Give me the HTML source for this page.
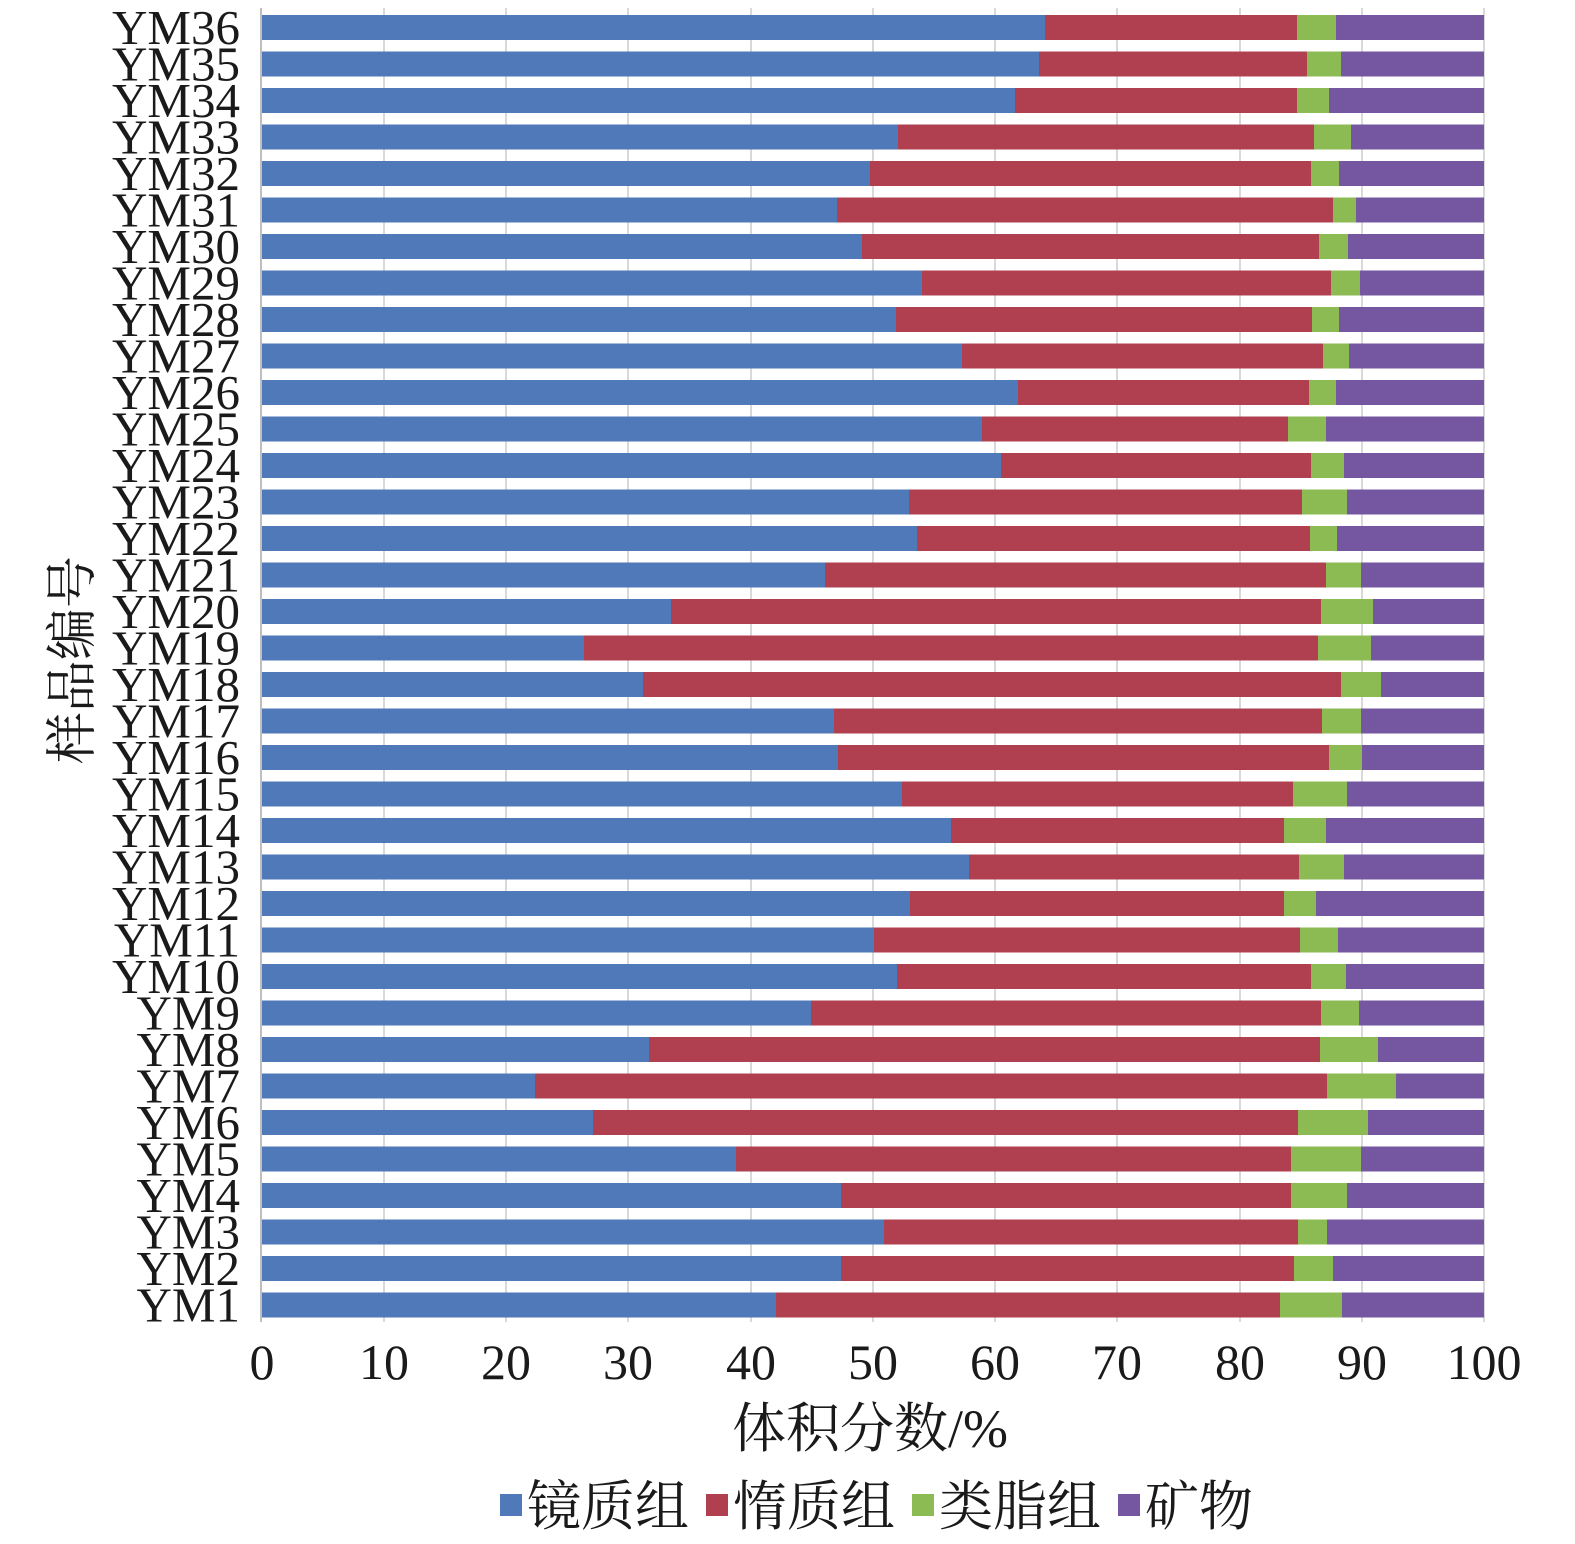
<!DOCTYPE html>
<html><head><meta charset="utf-8"><style>
body{margin:0;background:#fff}
.b{fill:#4f79b8}.r{fill:#b04050}.g{fill:#8dbb53}.p{fill:#7457a0}
text{font-family:"Liberation Serif","Noto Serif CJK SC",serif;fill:#1a1a1a}
.yl{font-size:49px;text-anchor:end}
.xl{font-size:50px;text-anchor:middle}
</style></head><body>
<svg width="1575" height="1539" xmlns="http://www.w3.org/2000/svg">
<g stroke="#d9d9d9" stroke-width="2">
<line x1="384" y1="8" x2="384" y2="1322"/><line x1="506" y1="8" x2="506" y2="1322"/><line x1="628" y1="8" x2="628" y2="1322"/><line x1="751" y1="8" x2="751" y2="1322"/><line x1="873" y1="8" x2="873" y2="1322"/><line x1="995" y1="8" x2="995" y2="1322"/><line x1="1117" y1="8" x2="1117" y2="1322"/><line x1="1240" y1="8" x2="1240" y2="1322"/><line x1="1362" y1="8" x2="1362" y2="1322"/><line x1="1484" y1="8" x2="1484" y2="1322"/>
</g>
<g>
<g transform="translate(0,15)"><rect class="b" x="262" width="783" height="25"/><rect class="r" x="1045" width="252" height="25"/><rect class="g" x="1297" width="39" height="25"/><rect class="p" x="1336" width="148" height="25"/><text class="yl" x="240" y="29">YM36</text></g>
<g transform="translate(0,51.5)"><rect class="b" x="262" width="777" height="25"/><rect class="r" x="1039" width="268" height="25"/><rect class="g" x="1307" width="34" height="25"/><rect class="p" x="1341" width="143" height="25"/><text class="yl" x="240" y="29">YM35</text></g>
<g transform="translate(0,88)"><rect class="b" x="262" width="753" height="25"/><rect class="r" x="1015" width="282" height="25"/><rect class="g" x="1297" width="32" height="25"/><rect class="p" x="1329" width="155" height="25"/><text class="yl" x="240" y="29">YM34</text></g>
<g transform="translate(0,124.5)"><rect class="b" x="262" width="636" height="25"/><rect class="r" x="898" width="416" height="25"/><rect class="g" x="1314" width="37" height="25"/><rect class="p" x="1351" width="133" height="25"/><text class="yl" x="240" y="29">YM33</text></g>
<g transform="translate(0,161)"><rect class="b" x="262" width="608" height="25"/><rect class="r" x="870" width="441" height="25"/><rect class="g" x="1311" width="28" height="25"/><rect class="p" x="1339" width="145" height="25"/><text class="yl" x="240" y="29">YM32</text></g>
<g transform="translate(0,197.5)"><rect class="b" x="262" width="575" height="25"/><rect class="r" x="837" width="496" height="25"/><rect class="g" x="1333" width="23" height="25"/><rect class="p" x="1356" width="128" height="25"/><text class="yl" x="240" y="29">YM31</text></g>
<g transform="translate(0,234)"><rect class="b" x="262" width="600" height="25"/><rect class="r" x="862" width="457" height="25"/><rect class="g" x="1319" width="29" height="25"/><rect class="p" x="1348" width="136" height="25"/><text class="yl" x="240" y="29">YM30</text></g>
<g transform="translate(0,270.5)"><rect class="b" x="262" width="660" height="25"/><rect class="r" x="922" width="409" height="25"/><rect class="g" x="1331" width="29" height="25"/><rect class="p" x="1360" width="124" height="25"/><text class="yl" x="240" y="29">YM29</text></g>
<g transform="translate(0,307)"><rect class="b" x="262" width="634" height="25"/><rect class="r" x="896" width="416" height="25"/><rect class="g" x="1312" width="27" height="25"/><rect class="p" x="1339" width="145" height="25"/><text class="yl" x="240" y="29">YM28</text></g>
<g transform="translate(0,343.5)"><rect class="b" x="262" width="700" height="25"/><rect class="r" x="962" width="361" height="25"/><rect class="g" x="1323" width="26" height="25"/><rect class="p" x="1349" width="135" height="25"/><text class="yl" x="240" y="29">YM27</text></g>
<g transform="translate(0,380)"><rect class="b" x="262" width="756" height="25"/><rect class="r" x="1018" width="291" height="25"/><rect class="g" x="1309" width="27" height="25"/><rect class="p" x="1336" width="148" height="25"/><text class="yl" x="240" y="29">YM26</text></g>
<g transform="translate(0,416.5)"><rect class="b" x="262" width="720" height="25"/><rect class="r" x="982" width="306" height="25"/><rect class="g" x="1288" width="38" height="25"/><rect class="p" x="1326" width="158" height="25"/><text class="yl" x="240" y="29">YM25</text></g>
<g transform="translate(0,453)"><rect class="b" x="262" width="739" height="25"/><rect class="r" x="1001" width="310" height="25"/><rect class="g" x="1311" width="33" height="25"/><rect class="p" x="1344" width="140" height="25"/><text class="yl" x="240" y="29">YM24</text></g>
<g transform="translate(0,489.5)"><rect class="b" x="262" width="647" height="25"/><rect class="r" x="909" width="393" height="25"/><rect class="g" x="1302" width="45" height="25"/><rect class="p" x="1347" width="137" height="25"/><text class="yl" x="240" y="29">YM23</text></g>
<g transform="translate(0,526)"><rect class="b" x="262" width="655" height="25"/><rect class="r" x="917" width="393" height="25"/><rect class="g" x="1310" width="27" height="25"/><rect class="p" x="1337" width="147" height="25"/><text class="yl" x="240" y="29">YM22</text></g>
<g transform="translate(0,562.5)"><rect class="b" x="262" width="563" height="25"/><rect class="r" x="825" width="501" height="25"/><rect class="g" x="1326" width="35" height="25"/><rect class="p" x="1361" width="123" height="25"/><text class="yl" x="240" y="29">YM21</text></g>
<g transform="translate(0,599)"><rect class="b" x="262" width="409" height="25"/><rect class="r" x="671" width="650" height="25"/><rect class="g" x="1321" width="52" height="25"/><rect class="p" x="1373" width="111" height="25"/><text class="yl" x="240" y="29">YM20</text></g>
<g transform="translate(0,635.5)"><rect class="b" x="262" width="322" height="25"/><rect class="r" x="584" width="734" height="25"/><rect class="g" x="1318" width="53" height="25"/><rect class="p" x="1371" width="113" height="25"/><text class="yl" x="240" y="29">YM19</text></g>
<g transform="translate(0,672)"><rect class="b" x="262" width="381" height="25"/><rect class="r" x="643" width="698" height="25"/><rect class="g" x="1341" width="40" height="25"/><rect class="p" x="1381" width="103" height="25"/><text class="yl" x="240" y="29">YM18</text></g>
<g transform="translate(0,708.5)"><rect class="b" x="262" width="572" height="25"/><rect class="r" x="834" width="488" height="25"/><rect class="g" x="1322" width="39" height="25"/><rect class="p" x="1361" width="123" height="25"/><text class="yl" x="240" y="29">YM17</text></g>
<g transform="translate(0,745)"><rect class="b" x="262" width="576" height="25"/><rect class="r" x="838" width="491" height="25"/><rect class="g" x="1329" width="33" height="25"/><rect class="p" x="1362" width="122" height="25"/><text class="yl" x="240" y="29">YM16</text></g>
<g transform="translate(0,781.5)"><rect class="b" x="262" width="640" height="25"/><rect class="r" x="902" width="391" height="25"/><rect class="g" x="1293" width="54" height="25"/><rect class="p" x="1347" width="137" height="25"/><text class="yl" x="240" y="29">YM15</text></g>
<g transform="translate(0,818)"><rect class="b" x="262" width="689" height="25"/><rect class="r" x="951" width="333" height="25"/><rect class="g" x="1284" width="42" height="25"/><rect class="p" x="1326" width="158" height="25"/><text class="yl" x="240" y="29">YM14</text></g>
<g transform="translate(0,854.5)"><rect class="b" x="262" width="707" height="25"/><rect class="r" x="969" width="330" height="25"/><rect class="g" x="1299" width="45" height="25"/><rect class="p" x="1344" width="140" height="25"/><text class="yl" x="240" y="29">YM13</text></g>
<g transform="translate(0,891)"><rect class="b" x="262" width="648" height="25"/><rect class="r" x="910" width="374" height="25"/><rect class="g" x="1284" width="32" height="25"/><rect class="p" x="1316" width="168" height="25"/><text class="yl" x="240" y="29">YM12</text></g>
<g transform="translate(0,927.5)"><rect class="b" x="262" width="612" height="25"/><rect class="r" x="874" width="426" height="25"/><rect class="g" x="1300" width="38" height="25"/><rect class="p" x="1338" width="146" height="25"/><text class="yl" x="240" y="29">YM11</text></g>
<g transform="translate(0,964)"><rect class="b" x="262" width="635" height="25"/><rect class="r" x="897" width="414" height="25"/><rect class="g" x="1311" width="35" height="25"/><rect class="p" x="1346" width="138" height="25"/><text class="yl" x="240" y="29">YM10</text></g>
<g transform="translate(0,1000.5)"><rect class="b" x="262" width="549" height="25"/><rect class="r" x="811" width="510" height="25"/><rect class="g" x="1321" width="38" height="25"/><rect class="p" x="1359" width="125" height="25"/><text class="yl" x="240" y="29">YM9</text></g>
<g transform="translate(0,1037)"><rect class="b" x="262" width="387" height="25"/><rect class="r" x="649" width="671" height="25"/><rect class="g" x="1320" width="58" height="25"/><rect class="p" x="1378" width="106" height="25"/><text class="yl" x="240" y="29">YM8</text></g>
<g transform="translate(0,1073.5)"><rect class="b" x="262" width="273" height="25"/><rect class="r" x="535" width="792" height="25"/><rect class="g" x="1327" width="69" height="25"/><rect class="p" x="1396" width="88" height="25"/><text class="yl" x="240" y="29">YM7</text></g>
<g transform="translate(0,1110)"><rect class="b" x="262" width="331" height="25"/><rect class="r" x="593" width="705" height="25"/><rect class="g" x="1298" width="70" height="25"/><rect class="p" x="1368" width="116" height="25"/><text class="yl" x="240" y="29">YM6</text></g>
<g transform="translate(0,1146.5)"><rect class="b" x="262" width="474" height="25"/><rect class="r" x="736" width="555" height="25"/><rect class="g" x="1291" width="70" height="25"/><rect class="p" x="1361" width="123" height="25"/><text class="yl" x="240" y="29">YM5</text></g>
<g transform="translate(0,1183)"><rect class="b" x="262" width="579" height="25"/><rect class="r" x="841" width="450" height="25"/><rect class="g" x="1291" width="56" height="25"/><rect class="p" x="1347" width="137" height="25"/><text class="yl" x="240" y="29">YM4</text></g>
<g transform="translate(0,1219.5)"><rect class="b" x="262" width="622" height="25"/><rect class="r" x="884" width="414" height="25"/><rect class="g" x="1298" width="29" height="25"/><rect class="p" x="1327" width="157" height="25"/><text class="yl" x="240" y="29">YM3</text></g>
<g transform="translate(0,1256)"><rect class="b" x="262" width="579" height="25"/><rect class="r" x="841" width="453" height="25"/><rect class="g" x="1294" width="39" height="25"/><rect class="p" x="1333" width="151" height="25"/><text class="yl" x="240" y="29">YM2</text></g>
<g transform="translate(0,1292.5)"><rect class="b" x="262" width="514" height="25"/><rect class="r" x="776" width="504" height="25"/><rect class="g" x="1280" width="62" height="25"/><rect class="p" x="1342" width="142" height="25"/><text class="yl" x="240" y="29">YM1</text></g>
</g>
<line x1="261" y1="8" x2="261" y2="1322" stroke="#bfbfbf" stroke-width="2"/>
<g>
<text class="xl" x="262" y="1379">0</text><text class="xl" x="384" y="1379">10</text><text class="xl" x="506" y="1379">20</text><text class="xl" x="628" y="1379">30</text><text class="xl" x="751" y="1379">40</text><text class="xl" x="873" y="1379">50</text><text class="xl" x="995" y="1379">60</text><text class="xl" x="1117" y="1379">70</text><text class="xl" x="1240" y="1379">80</text><text class="xl" x="1362" y="1379">90</text><text class="xl" x="1484" y="1379">100</text>
</g>
<text x="870" y="1447" style="font-size:54px;text-anchor:middle">体积分数/%</text>
<text transform="translate(90,660) rotate(-90)" style="font-size:52px;text-anchor:middle">样品编号</text>
<g style="font-size:54px">
<rect class="b" x="500" y="1494" width="22" height="22"/><text x="527" y="1525">镜质组</text>
<rect class="r" x="706" y="1494" width="22" height="22"/><text x="733" y="1525">惰质组</text>
<rect class="g" x="912" y="1494" width="22" height="22"/><text x="939" y="1525">类脂组</text>
<rect class="p" x="1118" y="1494" width="22" height="22"/><text x="1145" y="1525">矿物</text>
</g>
</svg>
</body></html>
